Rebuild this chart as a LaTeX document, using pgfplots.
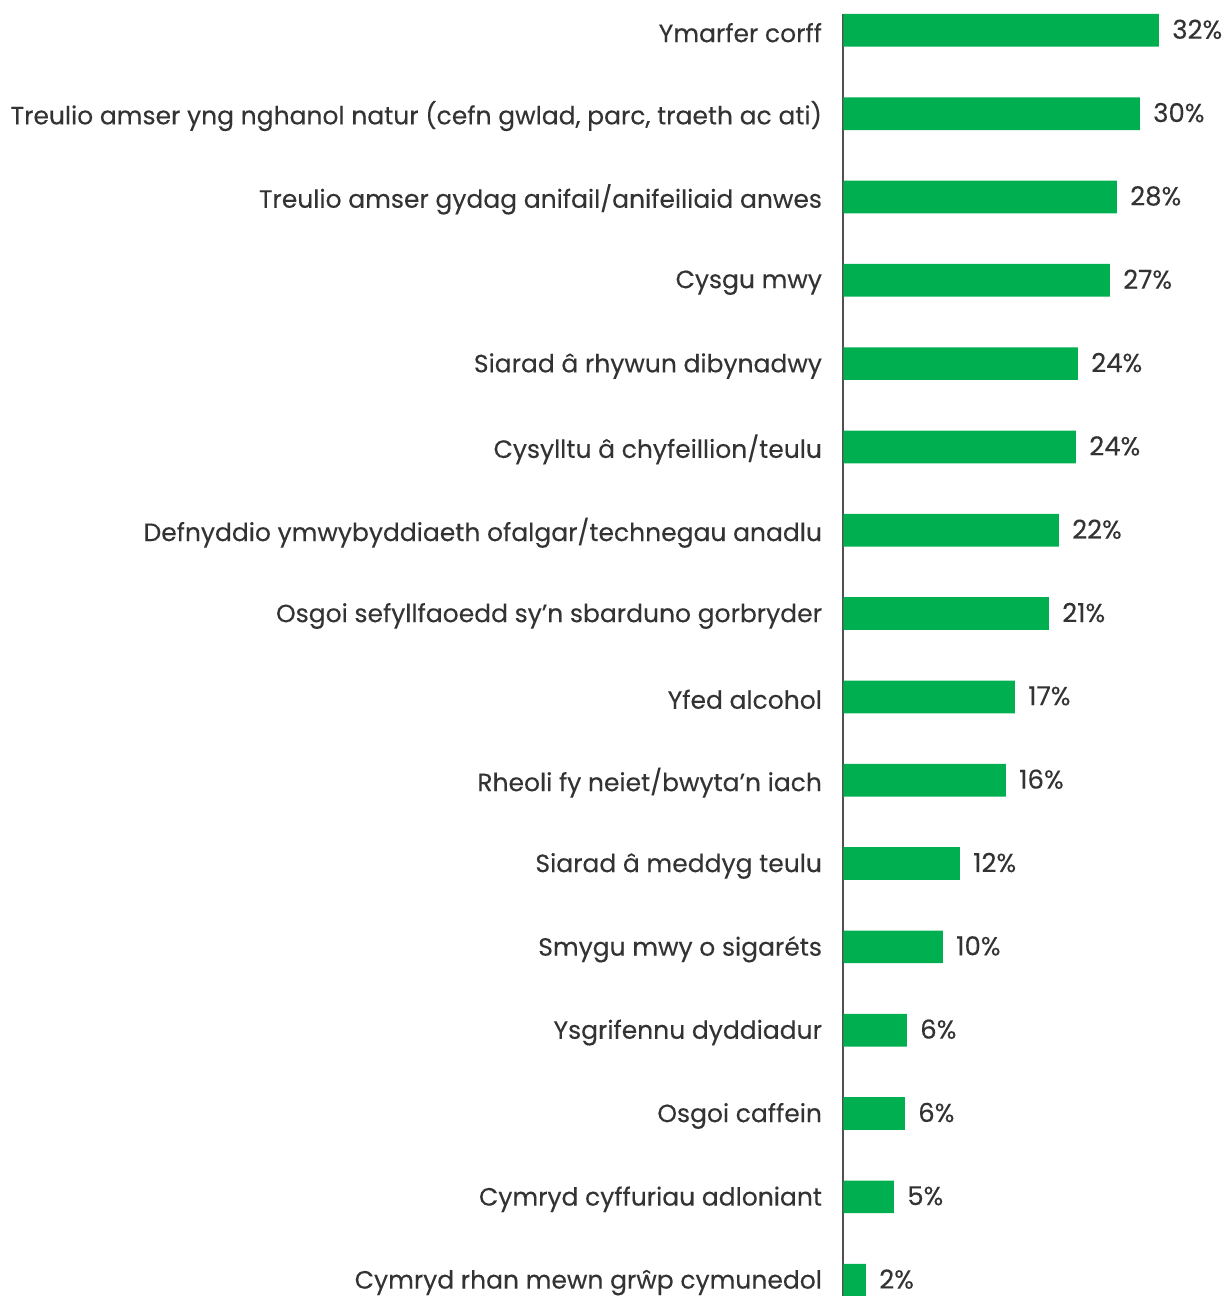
\documentclass[border=0pt]{standalone}
\usepackage{fontspec}
\setmainfont{Poppins}[FakeBold=0.2]
\usepackage{pgfplots}
\pgfplotsset{compat=1.18}
\usepackage{pgfplotstable}
\definecolor{bargreen}{HTML}{00AF50}
\definecolor{txt}{HTML}{333333}
\definecolor{axisgray}{HTML}{505050}

\pgfplotstableread[col sep=comma]{
idx,val,lab
0,31.97,32
1,30.04,30
2,27.71,28
3,27.00,27
4,23.76,24
5,23.56,24
6,21.83,22
7,20.82,21
8,17.38,17
9,16.46,16
10,11.80,12
11,10.08,10
12,6.43,6
13,6.23,6
14,5.12,5
15,2.28,2
}\datatable

\begin{document}
\begin{tikzpicture}
\begin{axis}[
  x=4.935pt, y=41.667pt,
  xmin=0, xmax=38.65,
  ymin=-0.196, ymax=15.6,
  y dir=reverse,
  axis x line=none,
  axis y line=left,
  axis line style={-, draw=axisgray, line width=1pt},
  clip=false,
  ytick={0,...,15},
  yticklabels={
    Ymarfer corff,
    {Treulio amser yng nghanol natur (cefn gwlad, parc, traeth ac ati)},
    Treulio amser gydag anifail/anifeiliaid anwes,
    Cysgu mwy,
    Siarad â rhywun dibynadwy,
    Cysylltu â chyfeillion/teulu,
    Defnyddio ymwybyddiaeth ofalgar/technegau anadlu,
    Osgoi sefyllfaoedd sy’n sbarduno gorbryder,
    Yfed alcohol,
    Rheoli fy neiet/bwyta’n iach,
    Siarad â meddyg teulu,
    Smygu mwy o sigaréts,
    Ysgrifennu dyddiadur,
    Osgoi caffein,
    Cymryd cyffuriau adloniant,
    Cymryd rhan mewn grŵp cymunedol},
  major tick length=0pt,
  yticklabel style={anchor=east, inner sep=0pt, xshift=-10.5pt, yshift=-1.2pt, text=txt, font=\fontsize{12.5}{15}\selectfont},
]
\addplot[xbar, fill=bargreen, draw=none, bar width=16.35pt, bar shift=0pt,
  point meta=explicit symbolic,
  nodes near coords={\pgfplotspointmeta\%},
  nodes near coords align=horizontal,
  every node near coord/.append style={anchor=west, inner sep=0pt, xshift=6.5pt, yshift=0.5pt, text=txt, font=\fontsize{13}{15}\selectfont}]
  table[x=val, y=idx, meta=lab] {\datatable};
\coordinate (bbtl) at (axis cs:-85.46,-0.364);
\coordinate (bbbr) at (axis cs:38.65,15.19);
\end{axis}
\pgfresetboundingbox
\path[use as bounding box] (bbtl) rectangle (bbbr);
\end{tikzpicture}
\end{document}
